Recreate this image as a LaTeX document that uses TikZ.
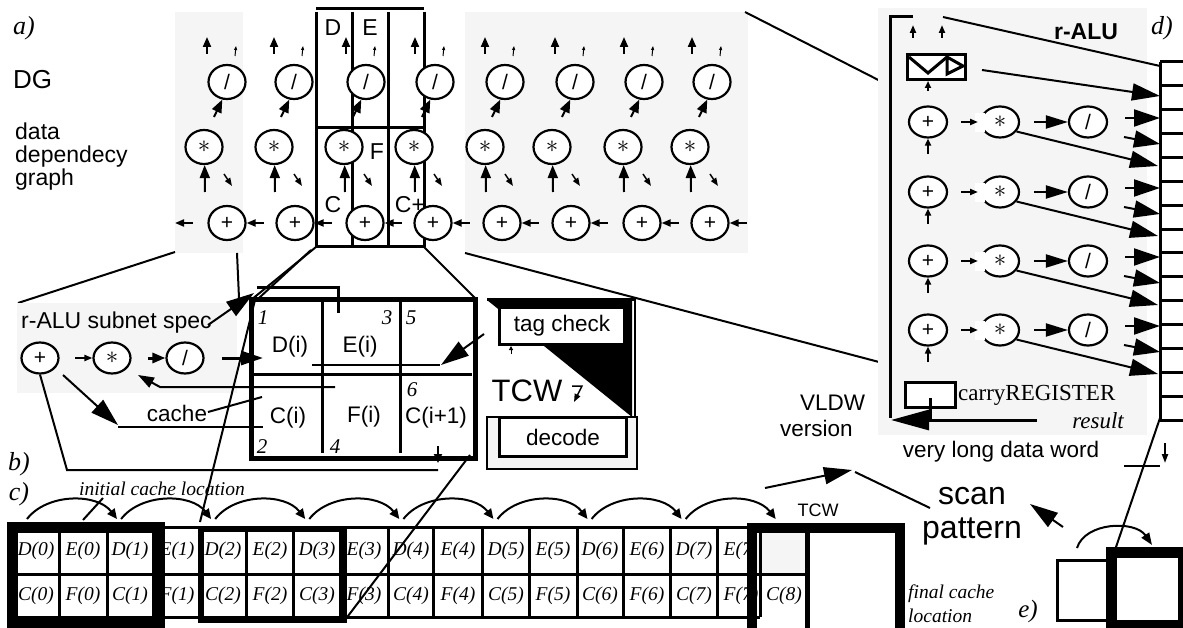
\documentclass[tikz,border=0pt]{standalone}
\usepackage{fontspec}
\setmainfont{Liberation Serif}
\setsansfont{Liberation Sans}
\usetikzlibrary{arrows.meta,shapes.geometric}
\definecolor{panel}{RGB}{245,245,245}
\newcommand{\myfs}[1]{\fontsize{#1}{#1}\selectfont}
\newcommand{\bigast}{\raisebox{-5pt}{\myfs{30}$\ast$}}
\begin{document}
\begin{tikzpicture}[x=1pt,y=-1pt,
  lw/.style={line width=2pt},
  thk/.style={line width=3pt},
  opc/.style={draw,ellipse,line width=2.2pt,fill=white,minimum width=37pt,minimum height=34pt,inner sep=0pt,font=\sffamily\myfs{21}},
  opcs/.style={opc,minimum width=37pt,minimum height=31pt},
  sans/.style={font=\sffamily\myfs{#1},inner sep=0pt},
  ital/.style={font=\itshape\myfs{#1},inner sep=0pt},
  rom/.style={font=\rmfamily\myfs{#1},inner sep=0pt},
  tipS/.style={-{Triangle[length=8pt,width=6pt]}},
  tipM/.style={-{Triangle[length=12pt,width=9pt]}},
  tipL/.style={-{Triangle[length=28pt,width=17pt]}},
]
\useasboundingbox (0,0) rectangle (1183,628);
% ================= a) DG =================
\fill[panel] (175,12) rectangle (243,253);
\fill[panel] (465,12) rectangle (748,253);
\node[ital=26] (la) at (24,28) {a)};
\node[sans=26,anchor=west] (dg) at (13,80) {DG};
\node[sans=23,anchor=base west] (t1) at (15,140) {data};
\node[sans=23,anchor=base west] (t2) at (15,163) {dependecy};
\node[sans=23,anchor=base west] (t3) at (15,186) {graph};
% DE box
\draw[thk] (316,9) -- (424,9);
\foreach \xx in {316,352,388,424} \draw[thk] (\xx,12) -- (\xx,247);
\draw[thk] (316,128) -- (424,128) (316,247) -- (424,247);
\node[sans=23] (lD) at (333,28) {D};
\node[sans=23] (lE) at (370,28) {E};
\node[sans=23] (lF) at (377,152) {F};
\node[sans=23] (lC) at (333,205) {C};
\node[sans=23] (lCp) at (410,205) {C+};
\foreach \a/\b/\c [count=\i] in {227/204/227,294/274/295,366/344/365,435/414/433,505/485/502,575/552/571,644/623/642,712/690/710}{
  \node[opc] (dv\i) at (\a,82) {/};
  \node[opc] (ml\i) at (\b,147) {\bigast};
  \node[opc] (ad\i) at (\c,223) {\raisebox{-3pt}{+}};
  \draw[lw,-{Triangle[length=10pt,width=8pt]}] (\a-20,54) -- (\a-20,37);
  \draw[line width=1pt,-{Triangle[length=4pt,width=3pt]}] (\a+8,56) -- (\a+9,46);
  \draw[lw,-{Triangle[length=13pt,width=10pt]}] (\a-13,117) -- (dv\i.255);
  \draw[lw,-{Triangle[length=13pt,width=10pt]}] (\b+1,192) -- (ml\i.272);
  \draw[line width=1.5pt,-{Triangle[length=8pt,width=6pt]}] (\b+20,174) -- (\b+28,186);
  \draw[lw,-{Triangle[length=9pt,width=7pt]}] ([xshift=17pt]ad\i.east) -- (ad\i.east);
}
\draw[lw,-{Triangle[length=9pt,width=7pt]}] (193,223) -- (175,223);
% connectors from DG
\draw[lw] (175,252) -- (18,303);
\draw[lw] (237,253) -- (239,298);
\draw[lw] (316,247) -- (251,300);
\draw[lw] (311,250) -- (259,298);
\draw[lw] (424,247) -- (477,300);
\draw[lw] (465,253) -- (898,367);
\draw[lw] (745,12) -- (898,90);
% ================= b) =================
\fill[panel] (17,303) rectangle (237,393);
\node[sans=23,anchor=west] (spec) at (21,323) {r-ALU subnet spec};
\node[opcs] (badd) at (40,358) {\raisebox{-3pt}{+}};
\node[opcs] (bmul) at (112,358) {\bigast};
\node[opcs] (bdiv) at (185,358) {/};
\draw[lw,-{Triangle[length=8pt,width=6pt]}] (75,358) -- (bmul.west);
\draw[thk,-{Triangle[length=13pt,width=10pt]}] (148,358) -- (bdiv.west);
\draw[thk,-{Triangle[length=22pt,width=14pt]}] (222,358) -- (263,358);
\draw[lw,tipL] (208,325) -- (254,293);
% main box
\draw[line width=5pt] (251,300) rectangle (475,458);
\draw[thk] (322,300) -- (322,453) (400,300) -- (400,453);
\draw[thk] (251,374) -- (472,374);
\draw[thk] (257,288) -- (338,288) -- (338,313);
\draw[lw] (312,365) -- (440,365);
\draw[lw,tipL] (484,334) -- (441,365);
\draw[lw,-{Triangle[length=16pt,width=11pt]}] (335,387) -- (160,387) -- (138,375);
\draw[lw,tipL] (63,375) -- (118,425);
\draw[lw] (118,427) -- (263,427);
\node[sans=22.5] (cache) at (177,413) {cache};
\draw[lw] (208,412) -- (262,397);
\draw[lw] (badd.south) -- (67,470) -- (438,470);
\draw[lw,-{Triangle[length=9pt,width=8pt]}] (438,446) -- (438,463);
\node[sans=22.5] (Di) at (290,347) {D(i)};
\node[sans=22.5] (Ei) at (360,347) {E(i)};
\node[sans=22.5] (Ci) at (288,418) {C(i)};
\node[sans=22.5] (Fi) at (364,417) {F(i)};
\node[sans=22.5] (Ci1) at (436,418) {C(i+1)};
\node[ital=21] (n1) at (263,318) {1};
\node[ital=21] (n3) at (387,318) {3};
\node[ital=21] (n5) at (411,318) {5};
\node[ital=21] (n6) at (412,390) {6};
\node[ital=21] (n2) at (262,447) {2};
\node[ital=21] (n4) at (335,447) {4};
\node[ital=26] (lb) at (19,464) {b)};
% tag check / TCW
\fill (487,300) -- (632,300) -- (632,417) -- cycle;
\draw[thk] (487,300) -- (636,300);
\draw[lw] (635,300) -- (635,417);
\node[draw,line width=3pt,fill=white,minimum width=125pt,minimum height=37pt,inner sep=0pt,font=\sffamily\myfs{22.5}] (tag) at (562,326) {tag check};
\draw[line width=1pt,-{Triangle[length=4pt,width=4pt]}] (511,354) -- (511,346);
\node[sans=31] (tcw) at (527,391) {TCW};
\draw[line width=1.5pt,-{Triangle[length=8pt,width=6pt]}] (572,386) -- (582,386) -- (574,402);
\draw[line width=2.5pt,fill=panel] (487,417) rectangle (637,469);
\node[draw,line width=3.5pt,fill=white,minimum width=127pt,minimum height=39pt,inner sep=0pt,font=\sffamily\myfs{22.5}] (decode) at (563,437) {decode};
\node[sans=22.5,anchor=base west] (vldw) at (800,410) {VLDW};
\node[sans=22.5,anchor=base west] (vers) at (780,436) {version};
% ================= c) =================
\node[ital=26] (lc) at (19,494) {c)};
\node[ital=19.5] (init) at (162,489) {initial cache location};
\draw[lw] (83,520) -- (103,498);
\foreach \k in {0,...,7}{
  \draw[lw,-{Triangle[length=10pt,width=9pt]}] ({27+94.1*\k},519) .. controls ({47+94.1*\k},493) and ({97+94.1*\k},493) .. ({117+94.1*\k},519);
}
\foreach \x/\t/\b in {36/{D(0)}/{C(0)},83/{E(0)}/{F(0)},130/{D(1)}/{C(1)},177/{E(1)}/{F(1)},223/{D(2)}/{C(2)},270/{E(2)}/{F(2)},317/{D(3)}/{C(3)},364/{E(3)}/{F(3)},411/{D(4)}/{C(4)},458/{E(4)}/{F(4)},506/{D(5)}/{C(5)},553/{E(5)}/{F(5)},600/{D(6)}/{C(6)},647/{E(6)}/{F(6)},694/{D(7)}/{C(7)},741/{E(7)}/{F(7)}}{
  \node[ital=19.5] (ct\x) at (\x,551) {\t};
  \node[ital=19.5] (cb\x) at (\x,596) {\b};
}
\fill[panel] (757,533) rectangle (806,573);
\node[ital=19.5] (c8) at (784,596) {C(8)};
\draw[thk] (12,527) -- (760,527);
\draw[thk] (12,574) -- (806,574);
\draw[thk] (12,617) -- (760,617);
\foreach \xx in {59,107,153,200,246,293,340,388,433,482,529,577,623,670,717,760}
  \draw[thk] (\xx,527) -- (\xx,617);
\draw[line width=11pt] (12.5,527) rectangle (159,622);
\draw[line width=6pt] (201,529) rectangle (344,620);
\draw[line width=10pt] (752,528) rectangle (900,650);
\draw[line width=5pt] (807.5,533) -- (807.5,628);
\node[sans=18] (tcw2) at (818,510) {TCW};
\draw[lw,-{Triangle[length=7pt,width=6pt]}] (808,545) -- (808,523);
\node[ital=19.5,anchor=base west] (fin1) at (908,598) {final cache};
\node[ital=19.5,anchor=base west] (fin2) at (908,622) {location};
\draw[lw] (256,296) -- (200,522);
\draw[lw] (470,455) -- (345,620);
% scan pattern
\node[font=\sffamily\fontsize{32}{34}\selectfont,align=center,inner sep=0pt] (scan) at (972,516) {scan\\pattern};
\draw[lw,tipL] (765,488) -- (852,470);
\draw[lw] (855,472) -- (930,508);
\draw[lw,tipL] (1063,527) -- (1030,504);
% e)
\node[ital=25] (le) at (1028,611) {e)};
\draw[line width=3pt] (1057,560) rectangle (1112,620);
\draw[line width=11pt] (1111,552.5) rectangle (1183,625);
\draw[lw,-{Triangle[length=12pt,width=9pt]}] (1077,548) .. controls (1085,522) and (1135,520) .. (1152,545);
\draw[lw] (1160,418) -- (1115,550);
\draw[lw] (1124,466) -- (1160,466);
\draw[lw,-{Triangle[length=9pt,width=6pt]}] (1165,443) -- (1165,463);
% ================= d) r-ALU =================
\fill[panel] (878,8) rectangle (1147,435);
\node[font=\sffamily\bfseries\myfs{23},inner sep=0pt] (ralu) at (1086,32) {r-ALU};
\node[ital=26] (ld) at (1162,28) {d)};
\draw[thk] (913,17) -- (890,17) -- (890,418);
\draw[lw,-{Triangle[length=8pt,width=6pt]}] (913,38) -- (913,25);
\draw[lw,-{Triangle[length=8pt,width=6pt]}] (942,38) -- (942,25);
\draw[thk] (1160,62) -- (1160,420);
\foreach \k in {0,...,15} \draw[thk] (1160,{62+23.87*\k}) -- (1183,{62+23.87*\k});
\draw[lw] (943,17) -- (1160,66);
\draw[thk,fill=white] (907,55) rectangle (965,80);
\draw[thk] (909,57) -- (928,73) -- (947,57);
\draw[thk] (947,57) -- (963,66) -- (947,74) -- cycle;
\draw[lw,-{Triangle[length=7pt,width=6pt]}] (928,91) -- (928,81);
\draw[lw,tipL] (982,70) -- (1160,96);
\foreach \dy [count=\r] in {0,70,139,208}{
  \node[opcs,minimum width=38pt] (ra\r) at (928,122+\dy) {+};
  \node[opcs,minimum width=38pt] (rm\r) at (1000,122+\dy) {\raisebox{3pt}{\bigast}};
  \node[opcs,minimum width=38pt] (rd\r) at (1088,122+\dy) {/};
  \fill[white] (975,113+\dy) rectangle (985,132+\dy);
  \draw[lw,-{Triangle[length=8pt,width=6pt]}] (961,122+\dy) -- (978,122+\dy);
  \draw[lw,-{Triangle[length=22pt,width=13pt]}] (1034,122+\dy) -- (rd\r.west);
  \draw[lw,-{Triangle[length=7pt,width=6pt]}] (928,154+\dy) -- (ra\r.south);
  \draw[lw,-{Triangle[length=26pt,width=17pt]}] (1125,118+\dy) -- (1160,118+\dy);
  \draw[lw,-{Triangle[length=26pt,width=17pt]}] (1124,137+\dy) -- (1160,144+\dy);
  \draw[lw,tipL] (rm\r.-30) -- (1158,166+\dy);
}
\draw[line width=3pt,fill=white] (905,382) rectangle (955,407);
\node[rom=23,anchor=west] (carry) at (958,395) {carryREGISTER};
\node[ital=23,anchor=east] (res) at (1124,421) {result};
\draw[thk] (930,398) -- (930,420);
\draw[thk,-{Triangle[length=38pt,width=20pt]}] (1037,420) -- (891,420);
\node[sans=22.5] (vldwd) at (1001,452) {very long data word};
\end{tikzpicture}
\end{document}
